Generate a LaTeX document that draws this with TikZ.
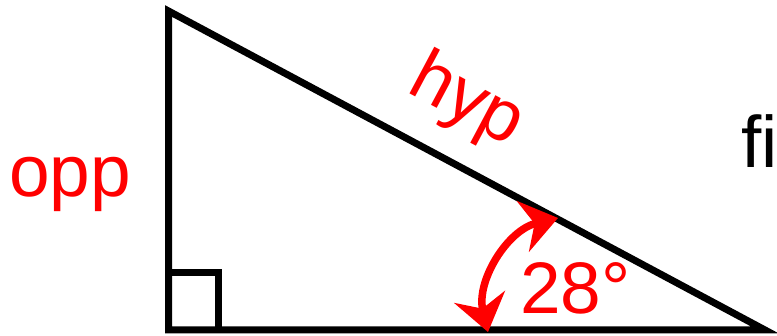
\documentclass[tikz,border=0pt]{standalone}
\usepackage{fontspec}
\setmainfont{Liberation Sans}[Ligatures=NoCommon]
\usetikzlibrary{arrows.meta}
\definecolor{redlab}{RGB}{255,0,0}
\begin{document}
\begin{tikzpicture}[x=1pt,y=-1pt,
  edge/.style={line width=7pt,black,line join=miter},
  lab/.style={text=redlab,font=\fontsize{73}{80}\selectfont,inner sep=0pt},
  anglearrow/.style={line width=7.5pt,redlab,{Stealth[length=36pt,width=52pt,inset=12pt]}-{Stealth[length=36pt,width=52pt,inset=12pt]}}]
\useasboundingbox (0,0) rectangle (777,336);
\coordinate (A) at (168.5,11);
\coordinate (B) at (168.5,330);
\coordinate (C) at (765,330);
\draw[edge] (A) -- (B) -- (C) -- cycle;
\coordinate (Q1) at (168.5,273);
\coordinate (Q2) at (218,273);
\coordinate (Q3) at (218,330);
\draw[edge] (Q1) -- (Q2) -- (Q3);
\coordinate (T1) at (488,332);
\coordinate (T2) at (558,218);
\draw[anglearrow] (T1) to[bend left=45] (T2);
\node[lab,anchor=base west] (opp) at (9,197) {opp};
\node[lab,rotate=-28] (hyp) at (466,102) {hyp};
\node[lab,anchor=base west] (ang) at (520,314) {28°};
\node[lab,text=black,anchor=base west] (fi) at (741,168) {fi};
\end{tikzpicture}
\end{document}
